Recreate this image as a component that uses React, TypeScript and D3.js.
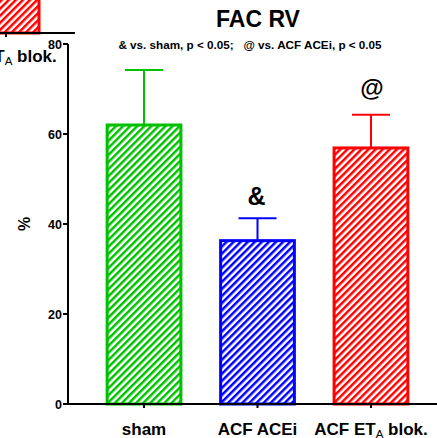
import * as d3 from "d3";

const W = 437;
const H = 438;
const M = { top: 44, left: 68, bottom: 34 };

const categories = ["sham", "ACF ACEi", "ACF ETA blok."];
const means = [62, 36.3, 56.9];
const sems = [12.2, 5, 7.4];
const colors = ["#00c000", "#0000ff", "#ff0000"];
const marks = ["", "&", "@"];
const yTicks = [0, 20, 40, 60, 80];

const FONT = "Arial, 'Liberation Sans', Helvetica, sans-serif";

// category label, with the subscript A in "ETA"
function CatLabel({ name, x, y }: { name: string; x: number; y: number }) {
  const sub = name.indexOf("ETA");
  return (
    <text x={x} y={y} textAnchor="middle" fontSize={17} fontWeight={700} fontFamily={FONT}>
      {sub < 0 ? (
        name
      ) : (
        <>
          {name.slice(0, sub + 2)}
          <tspan fontSize={11.5} dy={3} fontWeight={400}>A</tspan>
          <tspan dy={-3}>{name.slice(sub + 3)}</tspan>
        </>
      )}
    </text>
  );
}

export default function App() {
  const y = d3.scaleLinear().domain([0, 80]).range([H - M.bottom, M.top]);
  const x = d3
    .scaleBand<string>()
    .domain(categories)
    .range([M.left, 447])
    .paddingInner(0.35)
    .paddingOuter(0.345);
  const bw = x.bandwidth();
  const y0 = y(0);

  return (
    <svg
      width={W}
      height={H}
      viewBox={`0 0 ${W} ${H}`}
      style={{ position: "absolute", left: 0, top: 0, background: "#fff" }}
    >
      <defs>
        {colors.map((c, i) => (
          <pattern
            key={i}
            id={`hatch${i}`}
            patternUnits="userSpaceOnUse"
            width={5}
            height={5}
            patternTransform="rotate(45)"
          >
            <rect width={5} height={5} fill="#fff" />
            <line x1={1.25} x2={1.25} y1={0} y2={5} stroke={c} strokeWidth={2.5} />
          </pattern>
        ))}
      </defs>

      {/* fragment of the neighbouring panel, cut by the frame */}
      <rect x={-40} y={-10} width={79} height={43} fill="url(#hatch2)" stroke="#ff0000" strokeWidth={3} />
      <line x1={0} x2={75} y1={33} y2={33} stroke="#000" strokeWidth={2} />
      <line x1={6} x2={6} y1={33} y2={37} stroke="#000" strokeWidth={2} />
      <CatLabel name="ACF ETA blok." x={0} y={62} />

      {/* titles */}
      <text x={258} y={27} textAnchor="middle" fontSize={23} fontWeight={700} fontFamily={FONT}>
        FAC RV
      </text>
      <text
        x={250}
        y={49}
        textAnchor="middle"
        fontSize={11.7}
        fontWeight={700}
        fontFamily={FONT}
        style={{ whiteSpace: "pre" }}
      >
        {"& vs. sham, p < 0.05;   @ vs. ACF ACEi, p < 0.05"}
      </text>

      {/* bars */}
      {categories.map((c, i) => {
        const bx = x(c)!;
        const cx = bx + bw / 2;
        const top = y(means[i]);
        const eTop = y(means[i] + sems[i]);
        return (
          <g key={c}>
            <line x1={cx} x2={cx} y1={top} y2={eTop} stroke={colors[i]} strokeWidth={2} />
            <line x1={cx - 19} x2={cx + 19} y1={eTop} y2={eTop} stroke={colors[i]} strokeWidth={2} />
            <rect
              x={bx}
              y={top}
              width={bw}
              height={y0 - top}
              fill={`url(#hatch${i})`}
              stroke={colors[i]}
              strokeWidth={3}
            />
            {marks[i] && (
              <text
                x={cx + (i === 1 ? -1 : 1)}
                y={eTop - (i === 1 ? 13 : 19)}
                textAnchor="middle"
                fontSize={i === 1 ? 25 : 24}
                fontWeight={700}
                fontFamily={FONT}
              >
                {marks[i]}
              </text>
            )}
            <line x1={cx} x2={cx} y1={y0} y2={y0 + 4} stroke="#000" strokeWidth={2} />
            <CatLabel name={c} x={cx} y={435} />
          </g>
        );
      })}

      {/* axes */}
      <line x1={M.left} x2={W} y1={y0} y2={y0} stroke="#000" strokeWidth={2} />
      <line x1={M.left} x2={M.left} y1={y0 + 1} y2={y(80)} stroke="#000" strokeWidth={2} />
      {yTicks.map((t) => (
        <g key={t}>
          <line x1={M.left - 5} x2={M.left} y1={y(t)} y2={y(t)} stroke="#000" strokeWidth={2} />
          <text
            x={M.left - 6}
            y={y(t)}
            dy="0.36em"
            textAnchor="end"
            fontSize={12.5}
            fontWeight={700}
            fontFamily={FONT}
          >
            {t}
          </text>
        </g>
      ))}
      <text
        transform={`translate(30,${y(40)}) rotate(-90)`}
        textAnchor="middle"
        fontSize={16}
        fontWeight={700}
        fontFamily={FONT}
      >
        %
      </text>
    </svg>
  );
}
